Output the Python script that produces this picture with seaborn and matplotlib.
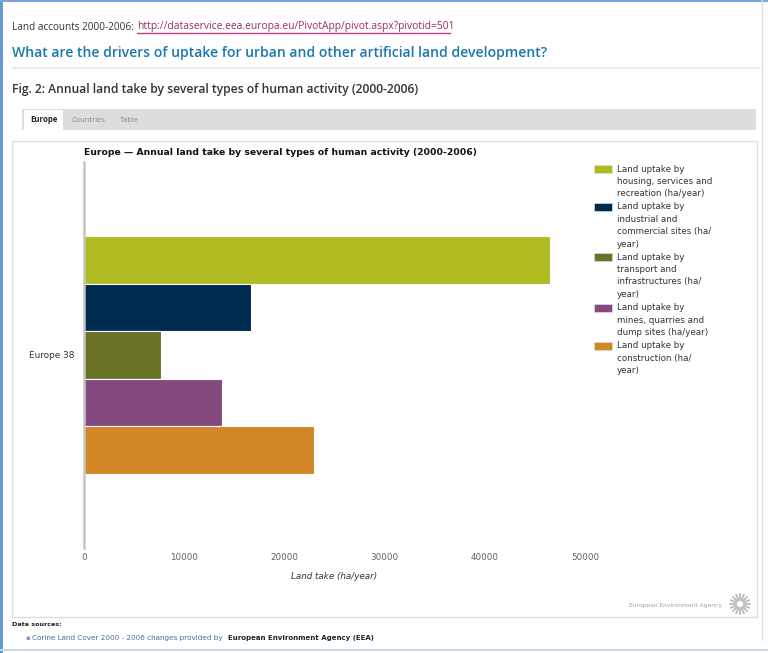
import matplotlib
matplotlib.use("Agg")
import matplotlib.pyplot as plt
from matplotlib.patches import Rectangle
from matplotlib.lines import Line2D
import numpy as np
import pandas as pd
import seaborn as sns

# ---- data ----
regions = ["Europe 38"]
categories = [
    "Land uptake by housing, services and recreation (ha/year)",
    "Land uptake by industrial and commercial sites (ha/year)",
    "Land uptake by transport and infrastructures (ha/year)",
    "Land uptake by mines, quarries and dump sites (ha/year)",
    "Land uptake by construction (ha/year)",
]
legend_lines = [
    ["Land uptake by", "housing, services and", "recreation (ha/year)"],
    ["Land uptake by", "industrial and", "commercial sites (ha/", "year)"],
    ["Land uptake by", "transport and", "infrastructures (ha/", "year)"],
    ["Land uptake by", "mines, quarries and", "dump sites (ha/year)"],
    ["Land uptake by", "construction (ha/", "year)"],
]
values = [46500, 16700, 7650, 13800, 23000]
colors = ["#b0bb22", "#002b50", "#6b7127", "#844a7f", "#d38625"]
xticks = [0, 10000, 20000, 30000, 40000, 50000]

df = pd.DataFrame({"region": regions * len(categories),
                   "category": categories,
                   "value": values})

W, H = 768, 653
sns.set_style("white")
plt.rcParams["font.family"] = ["DejaVu Sans"]
fig = plt.figure(figsize=(W / 100, H / 100), dpi=100)
fig.patch.set_facecolor("white")


def P(x, y):
    return x / W, 1 - y / H


def ftext(x, y, s, **kw):
    kw.setdefault("va", "center")
    kw.setdefault("ha", "left")
    return fig.text(*P(x, y), s, **kw)


def frect(x0, y0, x1, y1, **kw):
    r = Rectangle(P(x0, y1), (x1 - x0) / W, (y1 - y0) / H,
                  transform=fig.transFigure, **kw)
    fig.add_artist(r)
    return r


def fline(x0, y0, x1, y1, **kw):
    a, b = P(x0, y0)
    c, d = P(x1, y1)
    fig.add_artist(Line2D([a, c], [b, d], transform=fig.transFigure, **kw))


page_font = ["Open Sans", "DejaVu Sans"]

# page frame
fline(1, 0, 1, H, color="#5b8fd0", lw=2)
fline(0, 1, W, 1, color="#7aa3d8", lw=1.5)
fline(0, 650, W, 650, color="#c9d9ee", lw=1.5)
fline(762, 0, 762, 640, color="#d5dde8", lw=1)

# header texts
ftext(12, 27, "Land accounts 2000-2006: ", fontsize=7.2, color="#333333",
      family=page_font)
ftext(137, 27, "http://dataservice.eea.europa.eu/PivotApp/pivot.aspx?pivotid=501",
      fontsize=7.35, color="#9c2a6a", family=page_font)
fline(137, 32.5, 450, 32.5, color="#b8407e", lw=1)

ftext(12, 53, "What are the drivers of uptake for urban and other artificial land development?",
      fontsize=10.1, color="#1a78ad", family=page_font, weight="semibold")
fline(12, 68, 760, 68, color="#e6e6e6", lw=1.2)

ftext(12, 89, "Fig. 2: Annual land take by several types of human activity (2000-2006)",
      fontsize=8.7, color="#333333", family=page_font, weight="semibold")

# tabs
frect(22, 109, 756, 130, facecolor="#dddddd", edgecolor="none")
frect(24, 110, 63, 131, facecolor="white", edgecolor="none")
ftext(43.5, 120, "Europe", fontsize=5.6, color="#222222", ha="center",
      family=page_font, weight="bold")
ftext(72, 120, "Countries", fontsize=5.4, color="#7b8ca3", family=page_font)
ftext(120, 120, "Table", fontsize=5.4, color="#7b8ca3", family=page_font)

# chart panel (drawn beneath the axes)
frect(12, 141, 757, 617, facecolor="white", edgecolor="#dedede", lw=1,
      zorder=-1)

# chart title
ftext(84, 153, "Europe \u2014 Annual land take by several types of human activity (2000-2006)",
      fontsize=6.7, color="#111111", weight="bold")

# axes
ax = fig.add_axes([84 / W, 1 - 548 / H, (585 - 84) / W, (548 - 162) / H])
ax.set_zorder(5)
ax.set_facecolor("none")
sns.barplot(data=df, y="region", x="value", hue="category",
            hue_order=categories, palette=colors, orient="h",
            width=0.615, edgecolor="white", linewidth=0.8,
            saturation=1, legend=False, ax=ax)
ax.set_xlim(0, 50000)
ax.set_ylim(0.5, -0.5)
ax.set_xticks(xticks)
ax.set_xticklabels([str(v) for v in xticks], fontsize=6.3, color="#606060")
ax.tick_params(axis="x", length=0, pad=3.5)
ax.tick_params(axis="y", length=0, pad=6.5, labelsize=6.4, labelcolor="#333333")
for s in ["top", "right", "bottom"]:
    ax.spines[s].set_visible(False)
ax.spines["left"].set_color("#c4c4c4")
ax.spines["left"].set_linewidth(1.8)
ax.set_ylabel("")
ax.set_xlabel("Land take (ha/year)", fontsize=6.3, style="italic",
              color="#333333", labelpad=7)
ax.grid(False)

# legend (manual, multi-line entries)
entry_tops = [169, 207, 257, 308, 346]
for top, lines, c in zip(entry_tops, legend_lines, colors):
    frect(594, top - 4, 612, top + 4, facecolor=c, edgecolor="#dddddd", lw=0.5)
    for i, ln in enumerate(lines):
        ftext(617, top + i * 12.4, ln, fontsize=6.3, color="#333333")

# EEA watermark
ftext(722, 605, "European Environment Agency", fontsize=4.3, color="#a0a0a0",
      ha="right")
cx, cy = 740, 604
for a in np.linspace(0, 2 * np.pi, 16, endpoint=False):
    fline(cx + 4 * np.cos(a), cy + 4 * np.sin(a),
          cx + 10 * np.cos(a), cy + 10 * np.sin(a), color="#bdbdbd", lw=1.4)

# data sources
ftext(12, 624, "Data sources:", fontsize=4.6, color="#222222", weight="bold")
ftext(25, 638, "\u25aa", fontsize=5, color="#7f9cc0")
ftext(32, 638, "Corine Land Cover 2000 - 2006 changes provided by", fontsize=5.2,
      color="#4a6a9a")
ftext(228, 638, "European Environment Agency (EEA)", fontsize=5.0,
      color="#222222", weight="bold")

fig.savefig("out.png", dpi=100)
